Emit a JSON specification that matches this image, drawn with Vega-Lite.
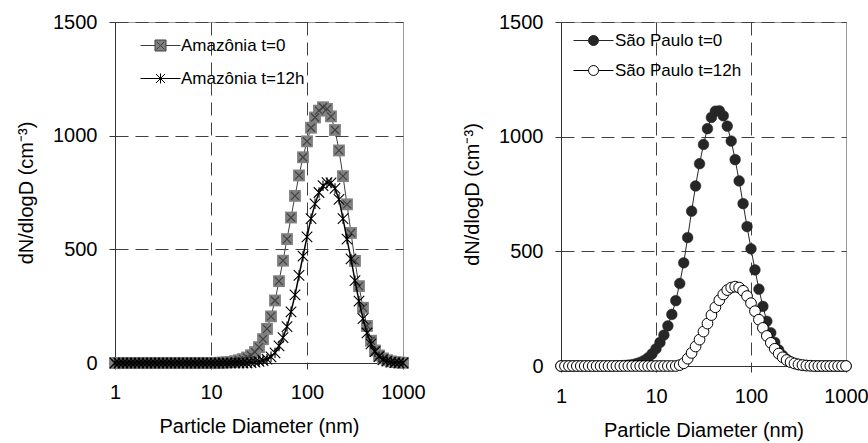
{
"$schema": "https://vega.github.io/schema/vega-lite/v6.json",
"background": "white",
"padding": {"left": 16, "top": 11, "right": 0, "bottom": 0},
"spacing": 36,
"resolve": {"scale": {"stroke": "independent"}, "legend": {"stroke": "independent"}},
"config": {
  "font": "Liberation Sans",
  "view": {"stroke": "#999999", "strokeWidth": 1},
  "axis": {
    "labelFont": "Liberation Sans", "labelFontSize": 20, "labelColor": "#000000",
    "titleFont": "Liberation Sans", "titleFontSize": 20, "titleFontWeight": "normal", "titleColor": "#000000",
    "domainColor": "#333333", "tickColor": "#333333", "tickSize": 6,
    "grid": true, "gridDash": [13, 7], "gridWidth": 1,
    "labelFlush": false, "labelOverlap": false
  },
  "legend": {"labelFont": "Liberation Sans", "labelFontSize": 17, "labelColor": "#000000"}
},
"hconcat": [
{
  "width": 288, "height": 341,
  "data": {"values": [
{"s":"Amazônia t=0","D":1,"v":0},{"s":"Amazônia t=0","D":1.101,"v":0},{"s":"Amazônia t=0","D":1.212,"v":0},{"s":"Amazônia t=0","D":1.334,"v":0},{"s":"Amazônia t=0","D":1.468,"v":0},{"s":"Amazônia t=0","D":1.616,"v":0},{"s":"Amazônia t=0","D":1.778,"v":0},{"s":"Amazônia t=0","D":1.957,"v":0},{"s":"Amazônia t=0","D":2.154,"v":0},{"s":"Amazônia t=0","D":2.371,"v":0},{"s":"Amazônia t=0","D":2.61,"v":0},{"s":"Amazônia t=0","D":2.873,"v":0},{"s":"Amazônia t=0","D":3.162,"v":0},{"s":"Amazônia t=0","D":3.481,"v":0},{"s":"Amazônia t=0","D":3.831,"v":0},{"s":"Amazônia t=0","D":4.217,"v":0},{"s":"Amazônia t=0","D":4.642,"v":0},{"s":"Amazônia t=0","D":5.109,"v":0},{"s":"Amazônia t=0","D":5.623,"v":0},{"s":"Amazônia t=0","D":6.19,"v":0},{"s":"Amazônia t=0","D":6.813,"v":0},{"s":"Amazônia t=0","D":7.499,"v":0},{"s":"Amazônia t=0","D":8.254,"v":0},{"s":"Amazônia t=0","D":9.085,"v":0},{"s":"Amazônia t=0","D":10,"v":0},{"s":"Amazônia t=0","D":11.01,"v":0},{"s":"Amazônia t=0","D":12.12,"v":1},{"s":"Amazônia t=0","D":13.34,"v":2},{"s":"Amazônia t=0","D":14.68,"v":3},{"s":"Amazônia t=0","D":16.16,"v":5},{"s":"Amazônia t=0","D":17.78,"v":8},{"s":"Amazônia t=0","D":19.57,"v":12},{"s":"Amazônia t=0","D":21.54,"v":17},{"s":"Amazônia t=0","D":23.71,"v":24},{"s":"Amazônia t=0","D":26.1,"v":34},{"s":"Amazônia t=0","D":28.73,"v":48},{"s":"Amazônia t=0","D":31.62,"v":70},{"s":"Amazônia t=0","D":34.81,"v":105},{"s":"Amazônia t=0","D":38.31,"v":150},{"s":"Amazônia t=0","D":42.17,"v":205},{"s":"Amazônia t=0","D":46.42,"v":275},{"s":"Amazônia t=0","D":51.09,"v":360},{"s":"Amazônia t=0","D":56.23,"v":450},{"s":"Amazônia t=0","D":61.9,"v":545},{"s":"Amazônia t=0","D":68.13,"v":640},{"s":"Amazônia t=0","D":74.99,"v":735},{"s":"Amazônia t=0","D":82.54,"v":825},{"s":"Amazônia t=0","D":90.85,"v":905},{"s":"Amazônia t=0","D":100,"v":975},{"s":"Amazônia t=0","D":110.1,"v":1035},{"s":"Amazônia t=0","D":121.2,"v":1080},{"s":"Amazônia t=0","D":133.4,"v":1110},{"s":"Amazônia t=0","D":146.8,"v":1125},{"s":"Amazônia t=0","D":161.6,"v":1118},{"s":"Amazônia t=0","D":177.8,"v":1085},{"s":"Amazônia t=0","D":195.7,"v":1025},{"s":"Amazônia t=0","D":215.4,"v":935},{"s":"Amazônia t=0","D":237.1,"v":822},{"s":"Amazônia t=0","D":261,"v":698},{"s":"Amazônia t=0","D":287.3,"v":572},{"s":"Amazônia t=0","D":316.2,"v":449},{"s":"Amazônia t=0","D":348.1,"v":338},{"s":"Amazônia t=0","D":383.1,"v":243},{"s":"Amazônia t=0","D":421.7,"v":163},{"s":"Amazônia t=0","D":464.2,"v":98},{"s":"Amazônia t=0","D":510.9,"v":55},{"s":"Amazônia t=0","D":562.3,"v":33},{"s":"Amazônia t=0","D":619,"v":20},{"s":"Amazônia t=0","D":681.3,"v":12},{"s":"Amazônia t=0","D":749.9,"v":7},{"s":"Amazônia t=0","D":825.4,"v":4},{"s":"Amazônia t=0","D":908.5,"v":2},{"s":"Amazônia t=0","D":1000,"v":1},
{"s":"Amazônia t=12h","D":1,"v":0},{"s":"Amazônia t=12h","D":1.101,"v":0},{"s":"Amazônia t=12h","D":1.212,"v":0},{"s":"Amazônia t=12h","D":1.334,"v":0},{"s":"Amazônia t=12h","D":1.468,"v":0},{"s":"Amazônia t=12h","D":1.616,"v":0},{"s":"Amazônia t=12h","D":1.778,"v":0},{"s":"Amazônia t=12h","D":1.957,"v":0},{"s":"Amazônia t=12h","D":2.154,"v":0},{"s":"Amazônia t=12h","D":2.371,"v":0},{"s":"Amazônia t=12h","D":2.61,"v":0},{"s":"Amazônia t=12h","D":2.873,"v":0},{"s":"Amazônia t=12h","D":3.162,"v":0},{"s":"Amazônia t=12h","D":3.481,"v":0},{"s":"Amazônia t=12h","D":3.831,"v":0},{"s":"Amazônia t=12h","D":4.217,"v":0},{"s":"Amazônia t=12h","D":4.642,"v":0},{"s":"Amazônia t=12h","D":5.109,"v":0},{"s":"Amazônia t=12h","D":5.623,"v":0},{"s":"Amazônia t=12h","D":6.19,"v":0},{"s":"Amazônia t=12h","D":6.813,"v":0},{"s":"Amazônia t=12h","D":7.499,"v":0},{"s":"Amazônia t=12h","D":8.254,"v":0},{"s":"Amazônia t=12h","D":9.085,"v":0},{"s":"Amazônia t=12h","D":10,"v":0},{"s":"Amazônia t=12h","D":11.01,"v":0},{"s":"Amazônia t=12h","D":12.12,"v":0},{"s":"Amazônia t=12h","D":13.34,"v":0},{"s":"Amazônia t=12h","D":14.68,"v":0},{"s":"Amazônia t=12h","D":16.16,"v":0},{"s":"Amazônia t=12h","D":17.78,"v":0},{"s":"Amazônia t=12h","D":19.57,"v":0},{"s":"Amazônia t=12h","D":21.54,"v":0},{"s":"Amazônia t=12h","D":23.71,"v":0},{"s":"Amazônia t=12h","D":26.1,"v":2},{"s":"Amazônia t=12h","D":28.73,"v":4},{"s":"Amazônia t=12h","D":31.62,"v":7},{"s":"Amazônia t=12h","D":34.81,"v":11},{"s":"Amazônia t=12h","D":38.31,"v":17},{"s":"Amazônia t=12h","D":42.17,"v":27},{"s":"Amazônia t=12h","D":46.42,"v":45},{"s":"Amazônia t=12h","D":51.09,"v":75},{"s":"Amazônia t=12h","D":56.23,"v":112},{"s":"Amazônia t=12h","D":61.9,"v":160},{"s":"Amazônia t=12h","D":68.13,"v":225},{"s":"Amazônia t=12h","D":74.99,"v":300},{"s":"Amazônia t=12h","D":82.54,"v":385},{"s":"Amazônia t=12h","D":90.85,"v":470},{"s":"Amazônia t=12h","D":100,"v":555},{"s":"Amazônia t=12h","D":110.1,"v":635},{"s":"Amazônia t=12h","D":121.2,"v":700},{"s":"Amazônia t=12h","D":133.4,"v":750},{"s":"Amazônia t=12h","D":146.8,"v":780},{"s":"Amazônia t=12h","D":161.6,"v":793},{"s":"Amazônia t=12h","D":177.8,"v":792},{"s":"Amazônia t=12h","D":195.7,"v":768},{"s":"Amazônia t=12h","D":215.4,"v":720},{"s":"Amazônia t=12h","D":237.1,"v":635},{"s":"Amazônia t=12h","D":261,"v":545},{"s":"Amazônia t=12h","D":287.3,"v":458},{"s":"Amazônia t=12h","D":316.2,"v":362},{"s":"Amazônia t=12h","D":348.1,"v":272},{"s":"Amazônia t=12h","D":383.1,"v":195},{"s":"Amazônia t=12h","D":421.7,"v":132},{"s":"Amazônia t=12h","D":464.2,"v":84},{"s":"Amazônia t=12h","D":510.9,"v":50},{"s":"Amazônia t=12h","D":562.3,"v":28},{"s":"Amazônia t=12h","D":619,"v":15},{"s":"Amazônia t=12h","D":681.3,"v":8},{"s":"Amazônia t=12h","D":749.9,"v":4},{"s":"Amazônia t=12h","D":825.4,"v":2},{"s":"Amazônia t=12h","D":908.5,"v":1},{"s":"Amazônia t=12h","D":1000,"v":0}
  ]},
  "encoding": {
    "x": {"field": "D", "type": "quantitative",
      "scale": {"type": "log", "domain": [1, 1000], "nice": false},
      "axis": {"values": [1, 10, 100, 1000], "format": "d", "title": "Particle Diameter (nm)",
        "labelPadding": 13, "titlePadding": 14,
        "gridColor": {"condition": {"test": "datum.value <= 1 || datum.value >= 1000", "value": "transparent"}, "value": "#404040"}}},
    "y": {"field": "v", "type": "quantitative",
      "scale": {"domain": [0, 1500], "nice": false},
      "axis": {"values": [0, 500, 1000, 1500], "format": "d", "title": "dN/dlogD (cm⁻³)",
        "labelPadding": 12, "titlePadding": 16,
        "gridColor": {"condition": {"test": "datum.value <= 0", "value": "transparent"}, "value": "#404040"}}}
  },
  "layer": [
    {"transform": [{"filter": "datum.s === 'Amazônia t=0'"}],
     "mark": {"type": "line", "strokeWidth": 1},
     "encoding": {"stroke": {"field": "s", "type": "nominal",
       "scale": {"domain": ["Amazônia t=0", "Amazônia t=12h"], "range": ["#404040", "#000000"]},
       "legend": {"orient": "none", "legendX": 37, "legendY": 15, "title": null,
         "symbolSize": 100, "labelOffset": 12, "rowPadding": 15,
         "encode": {"symbols": {"update": {
           "shape": {"signal": "datum.value === 'Amazônia t=0' ? 'M-4,0H-1.1M1.1,0H4M-1.1,-1.1H1.1V1.1H-1.1ZM-0.75,-0.75L0.75,0.75M0.75,-0.75L-0.75,0.75' : 'M-4,0H4M-0.9,-0.9L0.9,0.9M0.9,-0.9L-0.9,0.9M0,-1V1'"},
           "fill": {"signal": "datum.value === 'Amazônia t=0' ? '#808080' : 'transparent'"},
           "stroke": {"signal": "datum.value === 'Amazônia t=0' ? '#555555' : '#000000'"},
           "strokeWidth": {"value": 1},
           "opacity": {"value": 1}}}}}}}},
    {"transform": [{"filter": "datum.s === 'Amazônia t=0'"}],
     "mark": {"type": "point", "shape": "square", "filled": true, "color": "#808080", "strokeWidth": 0, "size": 140, "opacity": 1}},
    {"transform": [{"filter": "datum.s === 'Amazônia t=0'"}],
     "mark": {"type": "point", "shape": "M-1,-1L1,1M1,-1L-1,1", "filled": false, "color": "#404040", "strokeWidth": 1.2, "size": 64, "opacity": 1}},
    {"transform": [{"filter": "datum.s === 'Amazônia t=12h'"}],
     "mark": {"type": "line", "color": "#000000", "strokeWidth": 1.5}},
    {"transform": [{"filter": "datum.s === 'Amazônia t=12h'"}],
     "mark": {"type": "point", "shape": "M-1,-1L1,1M1,-1L-1,1M0,-1V1", "filled": false, "color": "#000000", "strokeWidth": 1.1, "size": 110, "opacity": 1}}
  ]
},
{
  "width": 285, "height": 344,
  "data": {"values": [
{"s":"São Paulo t=0","D":1,"v":0},{"s":"São Paulo t=0","D":1.101,"v":0},{"s":"São Paulo t=0","D":1.212,"v":0},{"s":"São Paulo t=0","D":1.334,"v":0},{"s":"São Paulo t=0","D":1.468,"v":0},{"s":"São Paulo t=0","D":1.616,"v":0},{"s":"São Paulo t=0","D":1.778,"v":0},{"s":"São Paulo t=0","D":1.957,"v":0},{"s":"São Paulo t=0","D":2.154,"v":0},{"s":"São Paulo t=0","D":2.371,"v":0},{"s":"São Paulo t=0","D":2.61,"v":0},{"s":"São Paulo t=0","D":2.873,"v":0},{"s":"São Paulo t=0","D":3.162,"v":0},{"s":"São Paulo t=0","D":3.481,"v":0},{"s":"São Paulo t=0","D":3.831,"v":1},{"s":"São Paulo t=0","D":4.217,"v":1},{"s":"São Paulo t=0","D":4.642,"v":2},{"s":"São Paulo t=0","D":5.109,"v":4},{"s":"São Paulo t=0","D":5.623,"v":6},{"s":"São Paulo t=0","D":6.19,"v":10},{"s":"São Paulo t=0","D":6.813,"v":16},{"s":"São Paulo t=0","D":7.499,"v":24},{"s":"São Paulo t=0","D":8.254,"v":36},{"s":"São Paulo t=0","D":9.085,"v":53},{"s":"São Paulo t=0","D":10,"v":75},{"s":"São Paulo t=0","D":11.01,"v":103},{"s":"São Paulo t=0","D":12.12,"v":135},{"s":"São Paulo t=0","D":13.34,"v":175},{"s":"São Paulo t=0","D":14.68,"v":225},{"s":"São Paulo t=0","D":16.16,"v":285},{"s":"São Paulo t=0","D":17.78,"v":360},{"s":"São Paulo t=0","D":19.57,"v":450},{"s":"São Paulo t=0","D":21.54,"v":560},{"s":"São Paulo t=0","D":23.71,"v":675},{"s":"São Paulo t=0","D":26.1,"v":785},{"s":"São Paulo t=0","D":28.73,"v":882},{"s":"São Paulo t=0","D":31.62,"v":966},{"s":"São Paulo t=0","D":34.81,"v":1035},{"s":"São Paulo t=0","D":38.31,"v":1084},{"s":"São Paulo t=0","D":42.17,"v":1111},{"s":"São Paulo t=0","D":46.42,"v":1113},{"s":"São Paulo t=0","D":51.09,"v":1091},{"s":"São Paulo t=0","D":56.23,"v":1046},{"s":"São Paulo t=0","D":61.9,"v":981},{"s":"São Paulo t=0","D":68.13,"v":900},{"s":"São Paulo t=0","D":74.99,"v":807},{"s":"São Paulo t=0","D":82.54,"v":708},{"s":"São Paulo t=0","D":90.85,"v":608},{"s":"São Paulo t=0","D":100,"v":511},{"s":"São Paulo t=0","D":110.1,"v":419},{"s":"São Paulo t=0","D":121.2,"v":335},{"s":"São Paulo t=0","D":133.4,"v":260},{"s":"São Paulo t=0","D":146.8,"v":195},{"s":"São Paulo t=0","D":161.6,"v":145},{"s":"São Paulo t=0","D":177.8,"v":103},{"s":"São Paulo t=0","D":195.7,"v":70},{"s":"São Paulo t=0","D":215.4,"v":46},{"s":"São Paulo t=0","D":237.1,"v":29},{"s":"São Paulo t=0","D":261,"v":18},{"s":"São Paulo t=0","D":287.3,"v":11},{"s":"São Paulo t=0","D":316.2,"v":6},{"s":"São Paulo t=0","D":348.1,"v":3},{"s":"São Paulo t=0","D":383.1,"v":2},{"s":"São Paulo t=0","D":421.7,"v":1},{"s":"São Paulo t=0","D":464.2,"v":0},{"s":"São Paulo t=0","D":510.9,"v":0},{"s":"São Paulo t=0","D":562.3,"v":0},{"s":"São Paulo t=0","D":619,"v":0},{"s":"São Paulo t=0","D":681.3,"v":0},{"s":"São Paulo t=0","D":749.9,"v":0},{"s":"São Paulo t=0","D":825.4,"v":0},{"s":"São Paulo t=0","D":908.5,"v":0},{"s":"São Paulo t=0","D":1000,"v":0},
{"s":"São Paulo t=12h","D":1,"v":0},{"s":"São Paulo t=12h","D":1.101,"v":0},{"s":"São Paulo t=12h","D":1.212,"v":0},{"s":"São Paulo t=12h","D":1.334,"v":0},{"s":"São Paulo t=12h","D":1.468,"v":0},{"s":"São Paulo t=12h","D":1.616,"v":0},{"s":"São Paulo t=12h","D":1.778,"v":0},{"s":"São Paulo t=12h","D":1.957,"v":0},{"s":"São Paulo t=12h","D":2.154,"v":0},{"s":"São Paulo t=12h","D":2.371,"v":0},{"s":"São Paulo t=12h","D":2.61,"v":0},{"s":"São Paulo t=12h","D":2.873,"v":0},{"s":"São Paulo t=12h","D":3.162,"v":0},{"s":"São Paulo t=12h","D":3.481,"v":0},{"s":"São Paulo t=12h","D":3.831,"v":0},{"s":"São Paulo t=12h","D":4.217,"v":0},{"s":"São Paulo t=12h","D":4.642,"v":0},{"s":"São Paulo t=12h","D":5.109,"v":0},{"s":"São Paulo t=12h","D":5.623,"v":0},{"s":"São Paulo t=12h","D":6.19,"v":0},{"s":"São Paulo t=12h","D":6.813,"v":0},{"s":"São Paulo t=12h","D":7.499,"v":0},{"s":"São Paulo t=12h","D":8.254,"v":0},{"s":"São Paulo t=12h","D":9.085,"v":0},{"s":"São Paulo t=12h","D":10,"v":0},{"s":"São Paulo t=12h","D":11.01,"v":0},{"s":"São Paulo t=12h","D":12.12,"v":0},{"s":"São Paulo t=12h","D":13.34,"v":0},{"s":"São Paulo t=12h","D":14.68,"v":0},{"s":"São Paulo t=12h","D":16.16,"v":0},{"s":"São Paulo t=12h","D":17.78,"v":4},{"s":"São Paulo t=12h","D":19.57,"v":12},{"s":"São Paulo t=12h","D":21.54,"v":32},{"s":"São Paulo t=12h","D":23.71,"v":57},{"s":"São Paulo t=12h","D":26.1,"v":85},{"s":"São Paulo t=12h","D":28.73,"v":115},{"s":"São Paulo t=12h","D":31.62,"v":150},{"s":"São Paulo t=12h","D":34.81,"v":185},{"s":"São Paulo t=12h","D":38.31,"v":222},{"s":"São Paulo t=12h","D":42.17,"v":256},{"s":"São Paulo t=12h","D":46.42,"v":287},{"s":"São Paulo t=12h","D":51.09,"v":312},{"s":"São Paulo t=12h","D":56.23,"v":331},{"s":"São Paulo t=12h","D":61.9,"v":342},{"s":"São Paulo t=12h","D":68.13,"v":346},{"s":"São Paulo t=12h","D":74.99,"v":342},{"s":"São Paulo t=12h","D":82.54,"v":328},{"s":"São Paulo t=12h","D":90.85,"v":305},{"s":"São Paulo t=12h","D":100,"v":274},{"s":"São Paulo t=12h","D":110.1,"v":239},{"s":"São Paulo t=12h","D":121.2,"v":202},{"s":"São Paulo t=12h","D":133.4,"v":166},{"s":"São Paulo t=12h","D":146.8,"v":131},{"s":"São Paulo t=12h","D":161.6,"v":101},{"s":"São Paulo t=12h","D":177.8,"v":75},{"s":"São Paulo t=12h","D":195.7,"v":54},{"s":"São Paulo t=12h","D":215.4,"v":38},{"s":"São Paulo t=12h","D":237.1,"v":26},{"s":"São Paulo t=12h","D":261,"v":17},{"s":"São Paulo t=12h","D":287.3,"v":11},{"s":"São Paulo t=12h","D":316.2,"v":7},{"s":"São Paulo t=12h","D":348.1,"v":4},{"s":"São Paulo t=12h","D":383.1,"v":2},{"s":"São Paulo t=12h","D":421.7,"v":1},{"s":"São Paulo t=12h","D":464.2,"v":0},{"s":"São Paulo t=12h","D":510.9,"v":0},{"s":"São Paulo t=12h","D":562.3,"v":0},{"s":"São Paulo t=12h","D":619,"v":0},{"s":"São Paulo t=12h","D":681.3,"v":0},{"s":"São Paulo t=12h","D":749.9,"v":0},{"s":"São Paulo t=12h","D":825.4,"v":0},{"s":"São Paulo t=12h","D":908.5,"v":0},{"s":"São Paulo t=12h","D":1000,"v":0}
  ]},
  "encoding": {
    "x": {"field": "D", "type": "quantitative",
      "scale": {"type": "log", "domain": [1, 1000], "nice": false},
      "axis": {"values": [1, 10, 100, 1000], "format": "d", "title": "Particle Diameter (nm)",
        "labelPadding": 14, "titlePadding": 14,
        "gridColor": {"condition": {"test": "datum.value <= 1 || datum.value >= 1000", "value": "transparent"}, "value": "#404040"}}},
    "y": {"field": "v", "type": "quantitative",
      "scale": {"domain": [0, 1500], "nice": false},
      "axis": {"values": [0, 500, 1000, 1500], "format": "d", "title": "dN/dlogD (cm⁻³)",
        "labelPadding": 12, "titlePadding": 16,
        "gridColor": {"condition": {"test": "datum.value <= 0", "value": "transparent"}, "value": "#404040"}}}
  },
  "layer": [
    {"transform": [{"filter": "datum.s === 'São Paulo t=0'"}],
     "mark": {"type": "line", "strokeWidth": 1},
     "encoding": {"stroke": {"field": "s", "type": "nominal",
       "scale": {"domain": ["São Paulo t=0", "São Paulo t=12h"], "range": ["#262626", "#000000"]},
       "legend": {"orient": "none", "legendX": 24, "legendY": 10, "title": null,
         "symbolSize": 100, "labelOffset": 13, "rowPadding": 12,
         "encode": {"symbols": {"update": {
           "shape": {"value": "M-4,0H-1M1,0H4M1,0A1,1,0,1,1,-1,0A1,1,0,1,1,1,0Z"},
           "fill": {"signal": "datum.value === 'São Paulo t=0' ? '#262626' : '#ffffff'"},
           "stroke": {"signal": "datum.value === 'São Paulo t=0' ? '#262626' : '#000000'"},
           "strokeWidth": {"value": 1},
           "opacity": {"value": 1}}}}}}}},
    {"transform": [{"filter": "datum.s === 'São Paulo t=0'"}],
     "mark": {"type": "point", "shape": "circle", "filled": true, "fill": "#262626", "stroke": "#262626", "strokeWidth": 0.5, "size": 115, "opacity": 1}},
    {"transform": [{"filter": "datum.s === 'São Paulo t=12h'"}],
     "mark": {"type": "line", "color": "#000000", "strokeWidth": 1}},
    {"transform": [{"filter": "datum.s === 'São Paulo t=12h'"}],
     "mark": {"type": "point", "shape": "circle", "filled": true, "fill": "#ffffff", "stroke": "#000000", "strokeWidth": 1, "size": 115, "opacity": 1}}
  ]
}
]
}
